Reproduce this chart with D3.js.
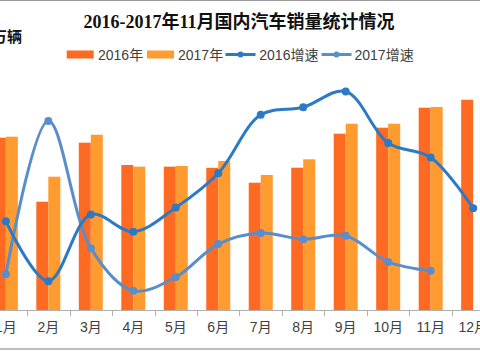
<!DOCTYPE html>
<html><head><meta charset="utf-8">
<script src="https://cdn.jsdelivr.net/npm/d3@7"></script>
<style>
html,body{margin:0;padding:0;background:#fff;overflow:hidden}
svg{display:block}
</style></head>
<body>
<svg id="c" width="480" height="352"></svg>
<script>
const months = ["1月","2月","3月","4月","5月","6月","7月","8月","9月","10月","11月","12月"];
const sales2016 = [250.8,157.6,243.5,211.0,208.6,206.9,185.3,207.1,256.6,265.3,294.4,306.0];
const sales2017 = [252.2,194.0,255.1,208.6,209.6,216.9,196.5,219.3,271.1,271.1,295.4];
const growth2016 = [7.9,-0.8,8.9,6.4,9.9,14.9,23.4,24.5,26.8,19.3,17.2,9.8];
const growth2017 = [0.2,22.5,4.0,-2.2,-0.2,4.6,6.2,5.3,5.8,2.0,0.7];
const seriesNames = ["2016年","2017年","2016增速","2017增速"];
const title = "2016-2017年11月国内汽车销量统计情况";
const unitLabel = "万辆";

const colors = {b16:"#FF6A22", b17:"#FF9B2F", l16:"#2B7AC3", l17:"#5A8ECA"};
const svg = d3.select("#c");
const W = 480, H = 352;
const plotTop = 69.5, plotBottom = 310;

// borders
svg.append("line").attr("x1",0).attr("x2",W).attr("y1",0.5).attr("y2",0.5).attr("stroke","#9a9a9a");
svg.append("line").attr("x1",0).attr("x2",W).attr("y1",349).attr("y2",349).attr("stroke","#a8a8a8").attr("stroke-width",1.5);

const x = d3.scaleBand().domain(months).range([-15.4, 494.4]).padding(0);
const bw = x.bandwidth();
const xs = d3.scaleBand().domain(["2016","2017"]).range([bw/2-12, bw/2+12]);
const yL = d3.scaleLinear().domain([0,350]).range([plotBottom, plotTop]);
const yR = d3.scaleLinear().domain([-5,30]).range([plotBottom, plotTop]);

// bars
const g = svg.append("g");
g.selectAll("rect.b16").data(sales2016).join("rect")
  .attr("x",(d,i)=>x(months[i])+xs("2016")).attr("width",xs.bandwidth())
  .attr("y",d=>yL(d)).attr("height",d=>yL(0)-yL(d)).attr("fill",colors.b16);
g.selectAll("rect.b17").data(sales2017).join("rect")
  .attr("x",(d,i)=>x(months[i])+xs("2017")).attr("width",xs.bandwidth())
  .attr("y",d=>yL(d)).attr("height",d=>yL(0)-yL(d)).attr("fill",colors.b17);

// axis
const ax = svg.append("g").attr("transform",`translate(0,${plotBottom})`)
  .call(d3.axisBottom(x).tickSize(0).tickPadding(12));
ax.select(".domain").attr("stroke","#b0b0b0");
ax.selectAll("text").attr("font-family","'Liberation Sans','Noto Sans CJK SC',sans-serif")
  .attr("font-size",14).attr("fill","#404040");
// boundary ticks
svg.append("g").selectAll("line").data(months.slice(1)).join("line")
  .attr("x1",d=>Math.round(x(d))+0.5).attr("x2",d=>Math.round(x(d))+0.5)
  .attr("y1",plotBottom).attr("y2",plotBottom+6).attr("stroke","#b0b0b0");

// lines
const cx = i => x(months[i]) + bw/2;
function drawLine(data, color){
  const line = d3.line().x((d,i)=>cx(i)).y(d=>yR(d)).curve(d3.curveCatmullRom.alpha(0.5));
  svg.append("path").datum(data).attr("d",line).attr("fill","none")
    .attr("stroke",color).attr("stroke-width",3).attr("stroke-linecap","round");
  svg.append("g").selectAll("circle").data(data).join("circle")
    .attr("cx",(d,i)=>cx(i)).attr("cy",d=>yR(d)).attr("r",4).attr("fill",color);
}
drawLine(growth2017, colors.l17);
drawLine(growth2016, colors.l16);

// title
svg.append("text").attr("x",239).attr("y",28).attr("text-anchor","middle")
  .attr("font-family","'Liberation Serif','Noto Sans CJK SC',serif").attr("font-weight","bold")
  .attr("font-size",18).attr("fill","#111").text(title);
svg.append("text").attr("x",-8).attr("y",42)
  .attr("font-family","'Noto Sans CJK SC',sans-serif").attr("font-weight","bold")
  .attr("font-size",15).attr("fill","#111").text(unitLabel);

// legend
const lg = svg.append("g").attr("font-family","'Liberation Sans','Noto Sans CJK SC',sans-serif")
  .attr("font-size",14).attr("fill","#404040");
const ly = 54.5;
const items = [
  {type:"rect", x:66.7, c:colors.b16, tx:98, t:seriesNames[0]},
  {type:"rect", x:147, c:colors.b17, tx:178, t:seriesNames[1]},
  {type:"line", x:225.5, c:colors.l16, tx:259.3, t:seriesNames[2]},
  {type:"line", x:321.5, c:colors.l17, tx:354.5, t:seriesNames[3]}
];
items.forEach(it=>{
  if(it.type==="rect"){
    lg.append("rect").attr("x",it.x).attr("y",ly-4).attr("width",27).attr("height",8).attr("fill",it.c);
  } else {
    lg.append("line").attr("x1",it.x).attr("x2",it.x+30).attr("y1",ly).attr("y2",ly)
      .attr("stroke",it.c).attr("stroke-width",3);
    lg.append("circle").attr("cx",it.x+15).attr("cy",ly).attr("r",3).attr("fill",it.c);
  }
  lg.append("text").attr("x",it.tx).attr("y",ly+5).text(it.t);
});
</script>
</body></html>
